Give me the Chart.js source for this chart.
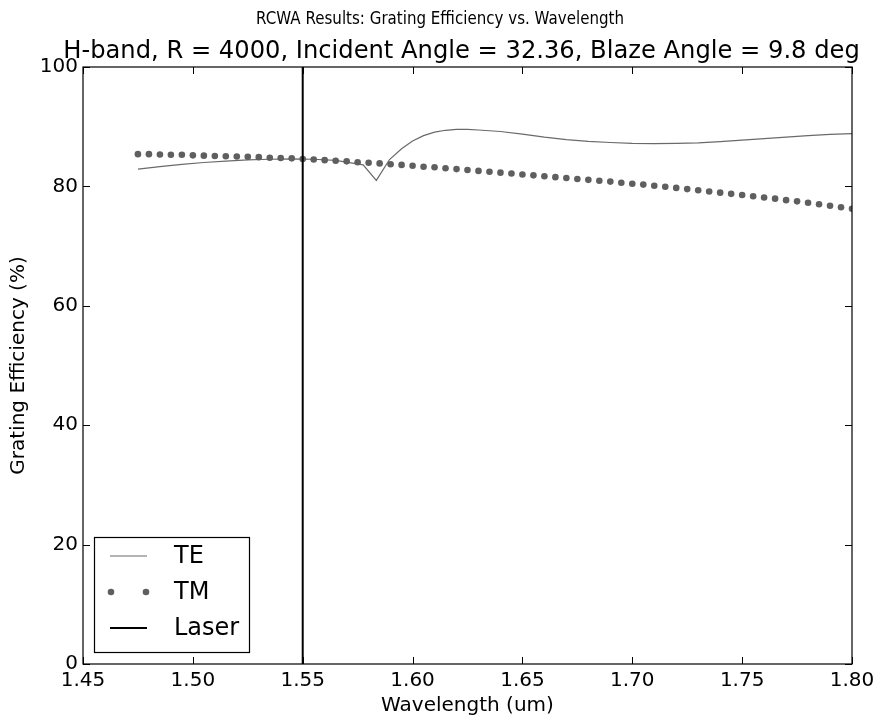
<!DOCTYPE html>
<html>
<head>
<meta charset="utf-8">
<script src="https://cdn.jsdelivr.net/npm/chart.js@4.4.1/dist/chart.umd.min.js"></script>
<style>
  html, body { margin: 0; padding: 0; background: #ffffff; }
  #wrap { width: 880px; height: 723px; }
</style>
</head>
<body>
<div id="wrap"><canvas id="c" width="880" height="723"></canvas></div>
<script>
// ---------------- data ----------------
const suptitleText = "RCWA Results: Grating Efficiency vs. Wavelength";
const titleText = "H-band, R = 4000, Incident Angle = 32.36, Blaze Angle = 9.8 deg";
const xAxisLabel = "Wavelength (um)";
const yAxisLabel = "Grating Efficiency (%)";
const seriesNames = ["TE", "TM", "Laser"];

const xTickValues = [1.45, 1.50, 1.55, 1.60, 1.65, 1.70, 1.75, 1.80];
const yTickValues = [0, 20, 40, 60, 80, 100];

const teWavelength = [1.475, 1.485, 1.495, 1.505, 1.515, 1.525, 1.535, 1.545, 1.555, 1.565,
  1.5775, 1.5835, 1.5895, 1.595, 1.600, 1.605, 1.610, 1.615, 1.620, 1.625, 1.630,
  1.640, 1.650, 1.660, 1.670, 1.680, 1.690, 1.700, 1.710, 1.720, 1.730, 1.740,
  1.750, 1.760, 1.770, 1.780, 1.790, 1.800];
const teEfficiency = [82.9, 83.3, 83.7, 84.0, 84.25, 84.45, 84.55, 84.6, 84.55, 84.35,
  83.6, 81.0, 84.5, 86.3, 87.6, 88.5, 89.1, 89.4, 89.55, 89.55, 89.45,
  89.2, 88.75, 88.25, 87.85, 87.55, 87.35, 87.2, 87.15, 87.2, 87.3, 87.5,
  87.75, 88.0, 88.25, 88.5, 88.7, 88.85];

const tmWavelength = [1.475, 1.480, 1.485, 1.490, 1.495, 1.500, 1.505, 1.510, 1.515, 1.520,
  1.525, 1.530, 1.535, 1.540, 1.545, 1.550, 1.555, 1.560, 1.565, 1.570,
  1.575, 1.580, 1.585, 1.590, 1.595, 1.600, 1.605, 1.610, 1.615, 1.620,
  1.625, 1.630, 1.635, 1.640, 1.645, 1.650, 1.655, 1.660, 1.665, 1.670,
  1.675, 1.680, 1.685, 1.690, 1.695, 1.700, 1.705, 1.710, 1.715, 1.720,
  1.725, 1.730, 1.735, 1.740, 1.745, 1.750, 1.755, 1.760, 1.765, 1.770,
  1.775, 1.780, 1.785, 1.790, 1.795, 1.800];
const tmEfficiency = [85.4, 85.4, 85.35, 85.3, 85.3, 85.2, 85.15, 85.1, 85.05, 85.0,
  84.95, 84.9, 84.8, 84.75, 84.7, 84.6, 84.5, 84.4, 84.3, 84.2,
  84.05, 83.95, 83.85, 83.7, 83.6, 83.45, 83.3, 83.2, 83.05, 82.9,
  82.75, 82.6, 82.45, 82.3, 82.15, 82.0, 81.85, 81.7, 81.55, 81.4,
  81.25, 81.1, 80.95, 80.8, 80.6, 80.45, 80.3, 80.1, 79.95, 79.75,
  79.55, 79.35, 79.15, 78.95, 78.75, 78.55, 78.35, 78.15, 77.95, 77.7,
  77.5, 77.25, 77.0, 76.75, 76.5, 76.25];

const laserWavelength = [1.55, 1.55];
const laserEfficiency = [0, 100];

// ---------------- chart ----------------
const FONT = "'DejaVu Sans', 'Liberation Sans', sans-serif";
const toPoints = (xs, ys) => xs.map((x, i) => ({ x: x, y: ys[i] }));

const framePlugin = {
  id: 'framePlugin',
  afterDatasetsDraw(chart) {
    const ctx = chart.ctx;
    const a = chart.chartArea;
    const xs = chart.scales.x, ys = chart.scales.y;
    ctx.save();
    ctx.strokeStyle = '#000';
    ctx.lineWidth = 1.2;
    ctx.strokeRect(a.left, a.top, a.right - a.left, a.bottom - a.top);
    // inward ticks on all four sides
    const tl = 7;
    ctx.lineWidth = 1;
    ctx.beginPath();
    xTickValues.forEach(v => {
      const px = Math.round(xs.getPixelForValue(v)) + 0.5;
      ctx.moveTo(px, a.bottom); ctx.lineTo(px, a.bottom - tl);
      ctx.moveTo(px, a.top); ctx.lineTo(px, a.top + tl);
    });
    yTickValues.forEach(v => {
      const py = Math.round(ys.getPixelForValue(v)) + 0.5;
      ctx.moveTo(a.left, py); ctx.lineTo(a.left + tl, py);
      ctx.moveTo(a.right, py); ctx.lineTo(a.right - tl, py);
    });
    ctx.stroke();
    ctx.restore();
  },
  afterDraw(chart) {
    const ctx = chart.ctx;
    const a = chart.chartArea;
    ctx.save();
    // titles
    ctx.fillStyle = '#000';
    ctx.textAlign = 'center';
    ctx.textBaseline = 'alphabetic';
    ctx.font = "18px " + FONT;
    const targetW = 368;
    const w = ctx.measureText(suptitleText).width;
    const sx = w > targetW ? targetW / w : 1;
    ctx.save();
    ctx.translate(chart.width / 2, 24);
    ctx.scale(sx, 1);
    ctx.fillText(suptitleText, 0, 0);
    ctx.restore();
    ctx.font = "24.2px " + FONT;
    ctx.fillText(titleText, (a.left + a.right) / 2 - 6, 58);

    // legend (inside axes, lower left)
    const lx = a.left + 11, ly = a.bottom - 127, lw = 155, lh = 115;
    ctx.fillStyle = '#fff';
    ctx.fillRect(lx, ly, lw, lh);
    ctx.strokeStyle = '#000';
    ctx.lineWidth = 1.2;
    ctx.strokeRect(lx + 0.5, ly + 0.5, lw, lh);
    const ds = chart.data.datasets;
    const rows = [ly + 19, ly + 55, ly + 91];
    const x0 = lx + 16, x1 = lx + 53;
    ds.forEach((d, i) => {
      const y = rows[i];
      if (d.showLine) {
        ctx.strokeStyle = d.borderColor;
        ctx.lineWidth = d.borderWidth;
        ctx.beginPath();
        ctx.moveTo(x0, y); ctx.lineTo(x1, y);
        ctx.stroke();
      } else {
        ctx.fillStyle = d.backgroundColor;
        [x0 + 1, x1 - 1].forEach(px => {
          ctx.beginPath();
          ctx.arc(px, y, d.pointRadius, 0, Math.PI * 2);
          ctx.fill();
        });
      }
      ctx.fillStyle = '#000';
      ctx.textAlign = 'left';
      ctx.textBaseline = 'middle';
      ctx.font = "24px " + FONT;
      ctx.fillText(d.label, lx + 80, y + 1);
    });
    ctx.restore();
  }
};

new Chart(document.getElementById('c'), {
  type: 'scatter',
  data: {
    datasets: [
      {
        label: seriesNames[0],
        data: toPoints(teWavelength, teEfficiency),
        showLine: true,
        borderColor: '#6a6a6a',
        borderWidth: 1.2,
        pointRadius: 0,
        tension: 0,
        order: 3
      },
      {
        label: seriesNames[1],
        data: toPoints(tmWavelength, tmEfficiency),
        showLine: false,
        backgroundColor: '#5f5f5f',
        borderWidth: 0,
        pointRadius: 3.3,
        order: 2
      },
      {
        label: seriesNames[2],
        data: toPoints(laserWavelength, laserEfficiency),
        showLine: true,
        borderColor: '#000000',
        borderWidth: 2,
        pointRadius: 0,
        order: 1
      }
    ]
  },
  options: {
    responsive: false,
    devicePixelRatio: 1,
    animation: false,
    layout: { padding: { top: 67, right: 28, left: 0, bottom: 0 } },
    plugins: {
      legend: { display: false },
      tooltip: { enabled: false },
      title: { display: false }
    },
    scales: {
      x: {
        type: 'linear',
        min: 1.45,
        max: 1.80,
        afterBuildTicks: s => { s.ticks = xTickValues.map(v => ({ value: v })); },
        afterFit: s => { s.height = 59; },
        grid: { display: false, drawTicks: false },
        border: { display: false },
        ticks: {
          color: '#000',
          font: { family: FONT, size: 20 },
          padding: 5,
          maxRotation: 0,
          autoSkip: false,
          callback: v => Number(v).toFixed(2)
        },
        title: {
          display: true,
          text: xAxisLabel,
          color: '#000',
          font: { family: FONT, size: 20 },
          padding: { top: 0, bottom: 5 }
        }
      },
      y: {
        type: 'linear',
        min: 0,
        max: 100,
        afterBuildTicks: s => { s.ticks = yTickValues.map(v => ({ value: v })); },
        afterFit: s => { s.width = 83; },
        grid: { display: false, drawTicks: false },
        border: { display: false },
        ticks: {
          color: '#000',
          font: { family: FONT, size: 20 },
          padding: 5,
          autoSkip: false,
          callback: v => String(v)
        },
        title: {
          display: true,
          text: yAxisLabel,
          color: '#000',
          font: { family: FONT, size: 20 },
          padding: { top: 7, bottom: 0 }
        }
      }
    }
  },
  plugins: [framePlugin]
});
</script>
</body>
</html>
